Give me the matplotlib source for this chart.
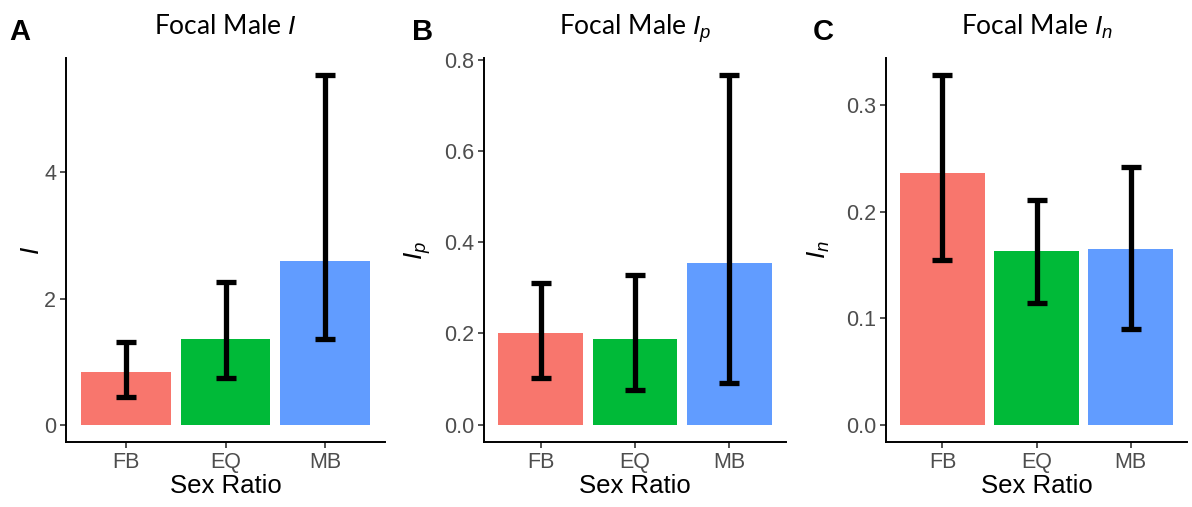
import matplotlib
matplotlib.use("Agg")
import matplotlib.pyplot as plt
import numpy as np

# data
groups = ["FB", "EQ", "MB"]
colors = ["#F8766D", "#00BA38", "#619CFF"]

I_mean = [0.84, 1.36, 2.59]
I_lo = [0.44, 0.74, 1.35]
I_hi = [1.31, 2.26, 5.54]

Ip_mean = [0.201, 0.188, 0.355]
Ip_lo = [0.102, 0.075, 0.092]
Ip_hi = [0.310, 0.329, 0.766]

In_mean = [0.236, 0.163, 0.165]
In_lo = [0.155, 0.114, 0.090]
In_hi = [0.328, 0.211, 0.242]

plt.rcParams['mathtext.fontset'] = 'custom'
plt.rcParams['mathtext.it'] = 'Liberation Sans:italic'
plt.rcParams['mathtext.rm'] = 'Liberation Sans'

fig = plt.figure(figsize=(11.92, 5.07), dpi=100)

panels = [
    ("A", r"Focal Male $I$", r"$I$", I_mean, I_lo, I_hi, [0, 2, 4], "{:.0f}", [0.0554, 0.1282, 0.2676, 0.7574], 0.008, 0.038),
    ("B", r"Focal Male $I_p$", r"$I_p$", Ip_mean, Ip_lo, Ip_hi, [0, 0.2, 0.4, 0.6, 0.8], "{:.1f}", [0.406, 0.1282, 0.2534, 0.7574], 0.346, 0.363),
    ("C", r"Focal Male $I_n$", r"$I_n$", In_mean, In_lo, In_hi, [0, 0.1, 0.2, 0.3], "{:.1f}", [0.7433, 0.1282, 0.2525, 0.7574], 0.682, 0.698),
]

for letter, title, ylab, mean, lo, hi, ticks, fmt, pos, lx, ylx in panels:
    ax = fig.add_axes(pos)
    x = np.arange(len(groups))
    mean = np.array(mean)
    lo = np.array(lo)
    hi = np.array(hi)
    ax.bar(x, mean, width=0.9, color=colors)
    ax.errorbar(x, mean, yerr=[mean - lo, hi - mean], fmt='none', ecolor='black',
                elinewidth=3.8, capsize=7.5, capthick=3.8)
    top = hi.max()
    ax.set_ylim(-0.05 * top, top * 1.05)
    ax.set_xlim(-0.6, 2.6)
    ax.set_xticks(x)
    ax.set_xticklabels(groups)
    ax.set_yticks(ticks)
    ax.set_yticklabels([fmt.format(t) for t in ticks])
    for s in ['top', 'right']:
        ax.spines[s].set_visible(False)
    for s in ['left', 'bottom']:
        ax.spines[s].set_linewidth(1.4)
    ax.tick_params(length=4, width=1.2, color='#333333', labelcolor='#4D4D4D', labelsize=15.5, pad=3)
    for lab in ax.get_xticklabels() + ax.get_yticklabels():
        lab.set_family('Liberation Sans')
    ax.set_xlabel("Sex Ratio", fontsize=18.5, family='Liberation Sans', labelpad=1)
    ax.set_ylabel(ylab, fontsize=19)
    ax.yaxis.set_label_coords((ylx - pos[0]) / pos[2], 0.5)
    ax.set_title(title, fontsize=19, family='Lato', pad=17)
    fig.text(lx, 0.965, letter, fontsize=21, fontweight='bold', family='Liberation Sans', va='top')

fig.savefig("out.png", dpi=100)
